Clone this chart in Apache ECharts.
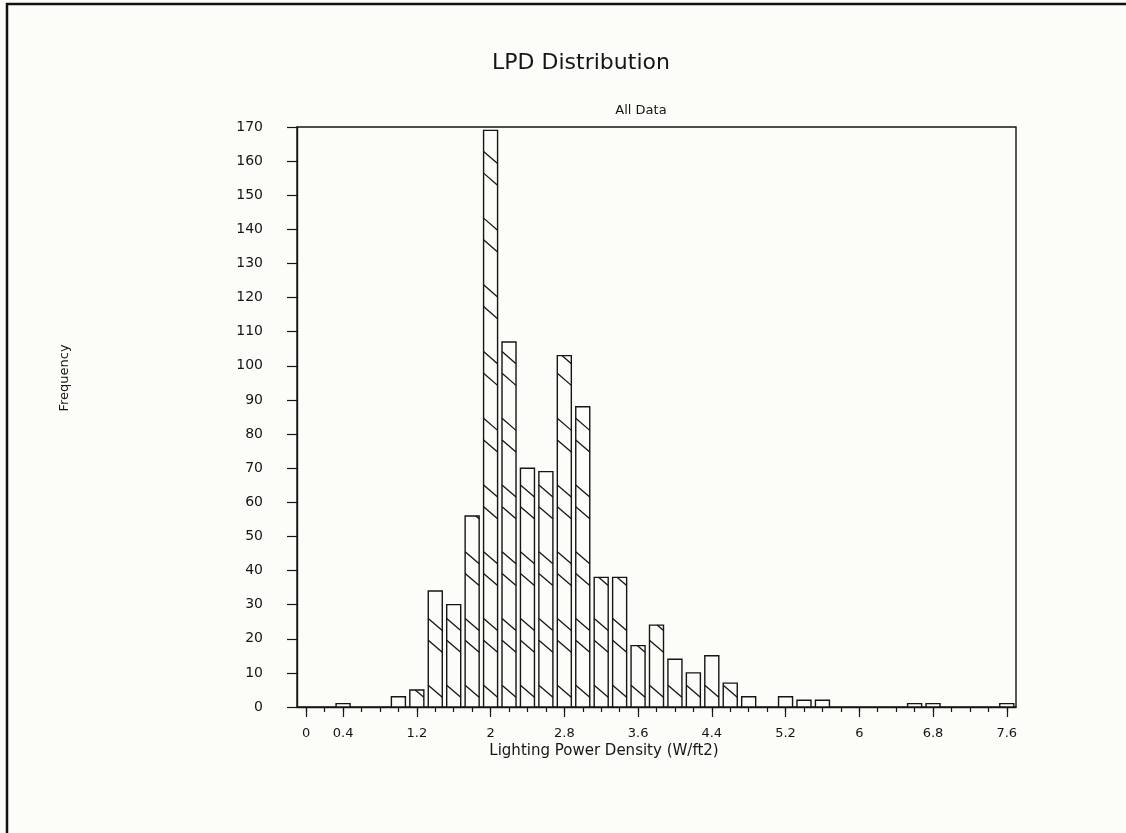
<!DOCTYPE html>
<html>
<head>
<meta charset="utf-8">
<title>LPD Distribution</title>
<script src="https://cdn.jsdelivr.net/npm/echarts@6/dist/echarts.min.js"></script>
<style>
  html, body { margin: 0; padding: 0; background: #fcfcf8; }
  #chart { width: 1126px; height: 833px; }
</style>
</head>
<body>
<div id="chart"></div>
<script>
// Histogram bins: lighting power density in W/ft2, 0.2 wide, centred on each value
const binCenters = [
  '0', '0.2', '0.4', '0.6', '0.8', '1', '1.2', '1.4', '1.6', '1.8',
  '2', '2.2', '2.4', '2.6', '2.8', '3', '3.2', '3.4', '3.6', '3.8',
  '4', '4.2', '4.4', '4.6', '4.8', '5', '5.2', '5.4', '5.6', '5.8',
  '6', '6.2', '6.4', '6.6', '6.8', '7', '7.2', '7.4', '7.6'
];

// Number of buildings in each bin
const frequency = [
  0, 0, 1, 0, 0, 3, 5, 34, 30, 56,
  169, 107, 70, 69, 103, 88, 38, 38, 18, 24,
  14, 10, 15, 7, 3, 0, 3, 2, 2, 0,
  0, 0, 0, 1, 1, 0, 0, 0, 1
];

// Bins that carry a label on the x axis
const xTickLabels = ['0', '0.4', '1.2', '2', '2.8', '3.6', '4.4', '5.2', '6', '6.8', '7.6'];

const INK = '#151515';
const PAPER = '#fcfcf8';
const FONT = 'DejaVu Sans';

// Hatch: pairs of "\" strokes repeating every HATCH_PERIOD counts up from the baseline
const HATCH_PERIOD = 19.56;
const HATCH_PAIR_GAP = 6.37;
const BAR_FRACTION = 0.76;

const labelled = new Set(xTickLabels);
const isLabelled = (i) => labelled.has(binCenters[i]);

function renderBar(params, api) {
  const idx = api.value(0);
  const v = api.value(1);
  if (!v) return null;
  const base = api.coord([idx, 0]);
  const top = api.coord([idx, v]);
  const band = api.size([1, 0])[0];
  const w = band * BAR_FRACTION;
  const xl = base[0] - w / 2;
  const xr = base[0] + w / 2;
  const yTop = top[1];
  const yBase = base[1];
  const pxPerUnit = api.size([0, 1])[1];
  const drop = w * 0.86;

  const children = [{
    type: 'rect',
    shape: { x: xl, y: yTop, width: xr - xl, height: yBase - yTop },
    style: { fill: PAPER, stroke: INK, lineWidth: 1.4 }
  }];

  const starts = [];
  for (let k = 0; k * HATCH_PERIOD <= v + HATCH_PERIOD; k++) {
    starts.push(yBase - k * HATCH_PERIOD * pxPerUnit);
    starts.push(yBase - (k * HATCH_PERIOD + HATCH_PAIR_GAP) * pxPerUnit);
  }
  starts.forEach((yL) => {
    const t0 = Math.max(0, (yTop - yL) / drop);
    const t1 = Math.min(1, (yBase - yL) / drop);
    if (t1 - t0 > 0.02) {
      children.push({
        type: 'line',
        shape: {
          x1: xl + w * t0, y1: yL + drop * t0,
          x2: xl + w * t1, y2: yL + drop * t1
        },
        style: { stroke: INK, lineWidth: 1.3 }
      });
    }
  });
  return { type: 'group', children };
}

const chart = echarts.init(document.getElementById('chart'), null, { renderer: 'canvas' });

chart.setOption({
  backgroundColor: PAPER,
  animation: false,
  grid: {
    left: 297, right: 110, top: 127, bottom: 126,
    show: true, borderColor: INK, borderWidth: 1.4, backgroundColor: 'transparent'
  },
  xAxis: [
    {
      type: 'category',
      data: binCenters,
      position: 'bottom',
      boundaryGap: true,
      axisLine: { show: true, onZero: false, lineStyle: { color: INK, width: 1.4 } },
      axisTick: {
        show: true, alignWithLabel: true, length: 10,
        interval: (i) => isLabelled(i),
        lineStyle: { color: INK, width: 1.2 }
      },
      axisLabel: {
        show: true, margin: 20,
        interval: (i) => isLabelled(i),
        fontFamily: FONT, fontSize: 13, color: INK
      },
      splitLine: { show: false }
    },
    {
      type: 'category',
      data: binCenters,
      position: 'bottom',
      gridIndex: 0,
      boundaryGap: true,
      axisLine: { show: false, onZero: false },
      axisTick: {
        show: true, alignWithLabel: true, length: 5, interval: 0,
        lineStyle: { color: INK, width: 1.2 }
      },
      axisLabel: { show: false },
      splitLine: { show: false }
    }
  ],
  yAxis: {
    type: 'value',
    min: 0, max: 170, interval: 10,
    axisLine: { show: true, lineStyle: { color: INK, width: 1.4 } },
    axisTick: { show: true, length: 10, lineStyle: { color: INK, width: 1.2 } },
    axisLabel: { margin: 34, fontFamily: FONT, fontSize: 14, color: INK },
    splitLine: { show: false }
  },
  graphic: [
    {
      type: 'line', silent: true,
      shape: { x1: 6, y1: 4, x2: 1126, y2: 4 },
      style: { stroke: '#111', lineWidth: 2.5 }
    },
    {
      type: 'line', silent: true,
      shape: { x1: 7, y1: 3, x2: 7, y2: 833 },
      style: { stroke: '#111', lineWidth: 2.5 }
    },
    {
      type: 'text', x: 581, y: 63,
      style: {
        text: 'LPD Distribution', fill: INK, font: '22px "' + FONT + '"',
        textAlign: 'center', textVerticalAlign: 'middle'
      }
    },
    {
      type: 'text', x: 641, y: 111,
      style: {
        text: 'All Data', fill: INK, font: '13px "' + FONT + '"',
        textAlign: 'center', textVerticalAlign: 'middle'
      }
    },
    {
      type: 'text', x: 604, y: 751,
      style: {
        text: 'Lighting Power Density (W/ft2)', fill: INK, font: '15px "' + FONT + '"',
        textAlign: 'center', textVerticalAlign: 'middle'
      }
    },
    {
      type: 'text', x: 65, y: 378, rotation: Math.PI / 2,
      style: {
        text: 'Frequency', fill: INK, font: '13px "' + FONT + '"',
        textAlign: 'center', textVerticalAlign: 'middle'
      }
    }
  ],
  series: [{
    type: 'custom',
    name: 'Frequency',
    xAxisIndex: 0,
    yAxisIndex: 0,
    renderItem: renderBar,
    encode: { x: 0, y: 1 },
    data: frequency.map((f, i) => [i, f]),
    clip: false
  }]
});
</script>
</body>
</html>
